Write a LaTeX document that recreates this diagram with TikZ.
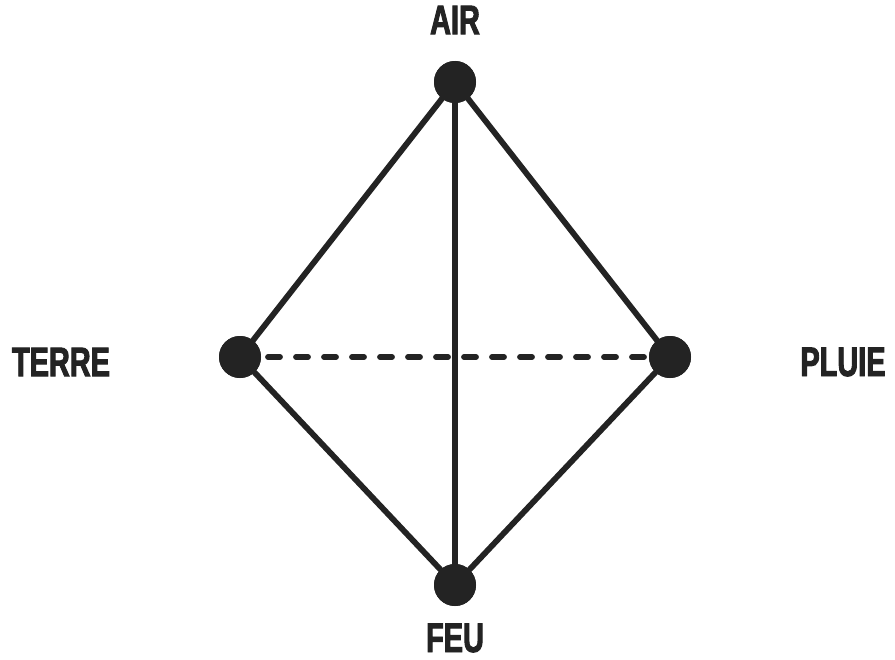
\documentclass[tikz,border=0pt]{standalone}
\usepackage{fontspec}
\setmainfont{Liberation Sans}
\newfontfamily\condfont[FakeStretch=0.7, BoldFont={Liberation Sans Bold}, BoldFeatures={FakeBold=2.2}]{Liberation Sans}
\usepackage{tikz}
\usetikzlibrary{positioning}
\definecolor{inkgray}{HTML}{232323}

\begin{document}
\begin{tikzpicture}[
  x=1cm, y=1cm,
  vertex/.style={circle, fill=inkgray, inner sep=0pt, minimum size=0.84cm},
  elemlabel/.style={font=\condfont\fontsize{23.5}{26}\selectfont\bfseries, text=inkgray, inner sep=0pt},
  edge/.style={draw=inkgray, line width=3.3pt},
  hidden/.style={draw=inkgray, line width=3.3pt, line cap=round, dash pattern=on 0.24cm off 0.32cm},
]
\useasboundingbox (0,0) rectangle (17.9,13.18);

%====================== VERTICES ======================
\node[vertex] (air)   at (9.1,11.54) {};
\node[vertex] (terre) at (4.8,6.04)  {};
\node[vertex] (pluie) at (13.4,6.04) {};
\node[vertex] (feu)   at (9.1,1.48)  {};

%====================== LABELS ======================
\node[elemlabel] (airt)   at (9.1,12.78)  {AIR};
\node[elemlabel] (terret) at (1.22,5.94)  {TERRE};
\node[elemlabel] (pluiet) at (16.86,5.94) {PLUIE};
\node[elemlabel] (feut)   at (9.1,0.42)   {FEU};

%====================== EDGES ======================
\draw[hidden] (terre.center) -- (pluie.center);
\draw[edge] (air.center) -- (terre.center);
\draw[edge] (air.center) -- (pluie.center);
\draw[edge] (air.center) -- (feu.center);
\draw[edge] (terre.center) -- (feu.center);
\draw[edge] (pluie.center) -- (feu.center);

% redraw dots on top
\foreach \v in {air,terre,pluie,feu}
  \fill[inkgray] (\v.center) circle (0.42cm);
\end{tikzpicture}
\end{document}
